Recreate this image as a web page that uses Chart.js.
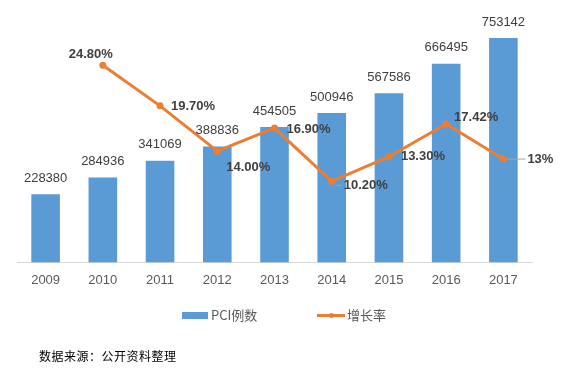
<!DOCTYPE html>
<html>
<head>
<meta charset="utf-8">
<script src="https://cdn.jsdelivr.net/npm/chart.js@4.4.1/dist/chart.umd.min.js"></script>
<style>
    html, body { margin: 0; padding: 0; background: #fff; }
    #wrap { position: relative; width: 570px; height: 378px; }
    #legend { position: absolute; top: 306px; left: 0; width: 570px; height: 18px;
        font: 13px "Noto Sans CJK SC", "Liberation Sans", sans-serif; color: #595959; }
    .item { position: absolute; top: 0; line-height: 18px; }
    .box { position: absolute; }
    #source { position: absolute; left: 39px; top: 347px;
        font: 12px "Noto Sans CJK SC", sans-serif; color: #000; letter-spacing: 0.5px; }
</style>
</head>
<body>
<div id="wrap">
    <canvas id="chart" width="570" height="378"></canvas>
    <div id="legend">
        <span class="box" style="left:182px; top:6px; width:26px; height:7px; background:#5B9BD5;"></span>
        <span class="item" style="left:211px;">PCI例数</span>
        <span class="box" style="left:317px; top:8px; width:28px; height:3px; background:#ED7D31;"></span>
        <span class="box" style="left:329px; top:7px; width:5px; height:5px; border-radius:50%; background:#ED7D31;"></span>
        <span class="item" style="left:347px;">增长率</span>
    </div>
    <div id="source">数据来源：公开资料整理</div>
</div>
<script>
const years = ['2009', '2010', '2011', '2012', '2013', '2014', '2015', '2016', '2017'];
const pciCases = [228380, 284936, 341069, 388836, 454505, 500946, 567586, 666495, 753142];
const growthRate = [null, 24.8, 19.7, 14.0, 16.9, 10.2, 13.3, 17.42, 13];
const growthLabels = ['', '24.80%', '19.70%', '14.00%', '16.90%', '10.20%', '13.30%', '17.42%', '13%'];

// label placement for the rate labels (dx, dy from the point)
const rateLabelOffsets = [[0, 0], [-12, -11], [33, 1], [31, 16], [34, 1], [34, 4], [34, 0], [30, -7], [37, 0]];
const leaderLines = [false, false, false, false, false, true, false, false, true];

document.addEventListener('DOMContentLoaded', function() {
    const dataLabelsPlugin = {
        id: 'dataLabels',
        afterDatasetsDraw(chart) {
            const { ctx } = chart;
            ctx.save();
            ctx.textAlign = 'center';
            ctx.textBaseline = 'middle';

            // bar values
            const barMeta = chart.getDatasetMeta(0);
            ctx.font = '13px "Liberation Sans", Arial, sans-serif';
            ctx.fillStyle = '#404040';
            barMeta.data.forEach((el, i) => {
                ctx.fillText(String(pciCases[i]), el.x, el.y - 16);
            });

            // growth rate labels
            const lineMeta = chart.getDatasetMeta(1);
            ctx.font = 'bold 13px "Liberation Sans", Arial, sans-serif';
            lineMeta.data.forEach((el, i) => {
                if (growthRate[i] === null) return;
                const [dx, dy] = rateLabelOffsets[i];
                if (leaderLines[i]) {
                    const w = ctx.measureText(growthLabels[i]).width;
                    ctx.strokeStyle = '#a6a6a6';
                    ctx.lineWidth = 1;
                    ctx.beginPath();
                    ctx.moveTo(el.x + 4, el.y + dy);
                    ctx.lineTo(el.x + dx - w / 2 - 2, el.y + dy);
                    ctx.stroke();
                }
                ctx.fillStyle = '#404040';
                ctx.fillText(growthLabels[i], el.x + dx, el.y + dy);
            });
            ctx.restore();
        }
    };

    const ctx = document.getElementById('chart').getContext('2d');
    new Chart(ctx, {
        data: {
            labels: years,
            datasets: [{
                type: 'bar',
                label: 'PCI例数',
                data: pciCases,
                backgroundColor: '#5B9BD5',
                barPercentage: 0.5,
                categoryPercentage: 1,
                yAxisID: 'y',
                order: 1
            }, {
                type: 'line',
                label: '增长率',
                data: growthRate,
                borderColor: '#ED7D31',
                backgroundColor: '#ED7D31',
                borderWidth: 3,
                pointRadius: 3.5,
                pointBorderWidth: 0,
                tension: 0,
                yAxisID: 'y2',
                order: 0
            }]
        },
        options: {
            responsive: false,
            animation: false,
            devicePixelRatio: 1,
            layout: {
                padding: { left: 17, right: 38, top: 24, bottom: 88 }
            },
            plugins: {
                legend: { display: false },
                tooltip: { enabled: false }
            },
            scales: {
                x: {
                    offset: true,
                    grid: { display: false },
                    border: { display: true, color: '#d9d9d9', width: 1 },
                    ticks: {
                        color: '#595959',
                        padding: 2,
                        font: { size: 13, family: '"Liberation Sans", Arial, sans-serif' }
                    }
                },
                y: { display: false, min: 0, max: 800000 },
                y2: { display: false, min: 0, max: 30, position: 'right' }
            }
        },
        plugins: [dataLabelsPlugin]
    });
});
</script>
</body>
</html>
